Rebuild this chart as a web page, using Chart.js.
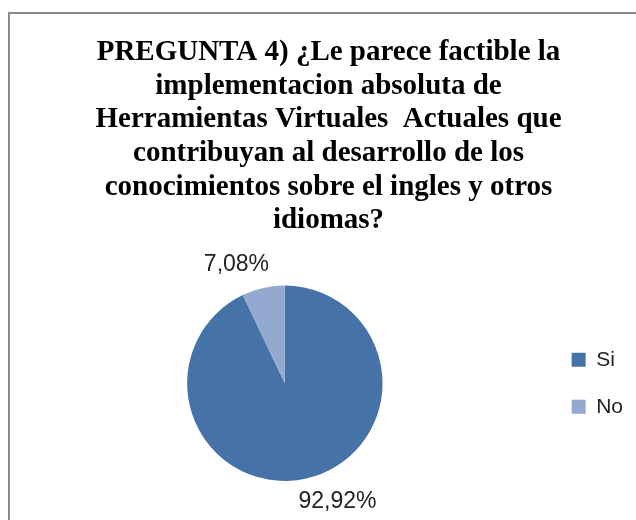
<!DOCTYPE html>
<html lang="es">
<head>
    <meta charset="UTF-8">
    <title>Pregunta 4</title>
    <script src="https://cdn.jsdelivr.net/npm/chart.js"></script>
    <style>
        body {
            margin: 0;
            background: #fff;
            overflow: hidden;
        }
        .frame {
            position: absolute;
            left: 8px;
            top: 12px;
            width: 700px;
            height: 600px;
            border: 2px solid #8a8a8a;
        }
        .wrap {
            position: absolute;
            left: 0;
            top: 0;
            width: 636px;
            height: 520px;
        }
    </style>
</head>
<body>
    <div class="frame"></div>
    <div class="wrap">
        <canvas id="pieChart"></canvas>
    </div>

    <script>
        const categories = ['Si', 'No'];
        const percentages = [92.92, 7.08];
        const titleLines = [
            'PREGUNTA 4) ¿Le parece factible la',
            'implementacion absoluta de',
            'Herramientas Virtuales  Actuales que',
            'contribuyan al desarrollo de los',
            'conocimientos sobre el ingles y otros',
            'idiomas?'
        ];

        // percentage labels just outside each slice
        const outsideLabels = {
            id: 'outsideLabels',
            afterDatasetsDraw(chart) {
                const ctx = chart.ctx;
                const meta = chart.getDatasetMeta(0);
                ctx.save();
                ctx.font = '23px "Liberation Sans", Arial, sans-serif';
                ctx.fillStyle = '#222';
                ctx.textAlign = 'center';
                ctx.textBaseline = 'middle';
                meta.data.forEach((arc, i) => {
                    const mid = (arc.startAngle + arc.endAngle) / 2;
                    const d = arc.outerRadius + 24;
                    const dx = Math.cos(mid), dy = Math.sin(mid);
                    const text = percentages[i].toFixed(2).replace('.', ',') + '%';
                    const w = ctx.measureText(text).width;
                    const x = arc.x + dx * d + Math.sign(dx) * w * 0.33;
                    const y = arc.y + dy * d;
                    ctx.fillText(text, x, y);
                });
                ctx.restore();
            }
        };

        new Chart(document.getElementById('pieChart'), {
            type: 'pie',
            data: {
                labels: categories,
                datasets: [{
                    data: percentages,
                    backgroundColor: ['#4673A7', '#93A9D0'],
                    borderWidth: 0
                }]
            },
            options: {
                responsive: true,
                maintainAspectRatio: false,
                animation: false,
                layout: {
                    padding: { left: 24, right: 3, top: 0, bottom: 39 }
                },
                plugins: {
                    title: {
                        display: true,
                        text: titleLines,
                        color: '#000',
                        font: { family: '"Liberation Serif", "Times New Roman", serif', size: 29, weight: 'bold', lineHeight: '33.6px' },
                        padding: { top: 36, bottom: 48 }
                    },
                    legend: {
                        position: 'right',
                        fullSize: false,
                        labels: {
                            boxWidth: 14,
                            boxHeight: 14,
                            padding: 26,
                            color: '#222',
                            font: { family: '"Liberation Sans", Arial, sans-serif', size: 21 }
                        }
                    },
                    tooltip: { enabled: false }
                }
            },
            plugins: [outsideLabels]
        });
    </script>
</body>
</html>
